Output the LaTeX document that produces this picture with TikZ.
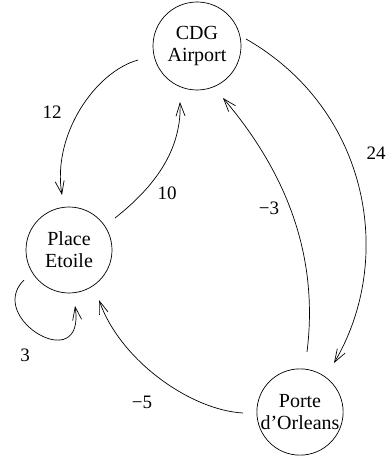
\documentclass[tikz,border=0pt]{standalone}
\usepackage{fontspec}
\setmainfont{Liberation Serif}
\usetikzlibrary{arrows.meta,calc}
\begin{document}
\begin{tikzpicture}[x=1pt,y=1pt,
  state/.style={draw,circle,line width=0.7pt,inner sep=0pt,align=center,
    font=\fontsize{20}{22}\selectfont},
  edge/.style={line width=0.7pt,-{Straight Barb[length=13pt,width=9pt,line width=0.7pt]}},
  lbl/.style={font=\fontsize{19}{22}\selectfont}]
\useasboundingbox (0,0) rectangle (388,-457);
\node[state,minimum size=88pt] (cdg) at (197,-46) {CDG\\Airport};
\node[state,minimum size=86pt] (place) at (69,-250) {Place\\Etoile};
\node[state,minimum size=86pt] (porte) at (300,-412) {Porte\\d’Orleans};
% 12
\draw[edge] ($(cdg.center)+(-59,-14)$) .. controls (95,-72) and (52,-135) .. ($(place.center)+(-7,55)$);
% 10
\draw[edge] ($(place.center)+(46,32)$) .. controls (148,-192) and (182,-155) .. ($(cdg.center)+(-17,-56)$);
% 24
\draw[edge] ($(cdg.center)+(49,7)$) .. controls (370,-110) and (395,-260) .. ($(porte.center)+(34,49)$);
% -3
\draw[edge] ($(porte.center)+(7,60)$) .. controls (320,-248) and (280,-165) .. ($(cdg.center)+(26,-52)$);
% -5
\draw[edge] ($(porte.center)+(-57,-1)$) .. controls (190,-410) and (120,-360) .. ($(place.center)+(30,-50)$);
% 3 loop
\draw[edge] ($(place.center)+(-45,-30)$) .. controls (-15,-318) and (86,-378) .. ($(place.center)+(6,-56)$);
\node[lbl] (l12) at (52,-112) {12};
\node[lbl] (l10) at (167,-193) {10};
\node[lbl] (l24) at (376,-153) {24};
\node[lbl] (l3m) at (269,-208) {−3};
\node[lbl] (l5m) at (142,-402) {−5};
\node[lbl] (l3) at (25,-355) {3};
\end{tikzpicture}
\end{document}
